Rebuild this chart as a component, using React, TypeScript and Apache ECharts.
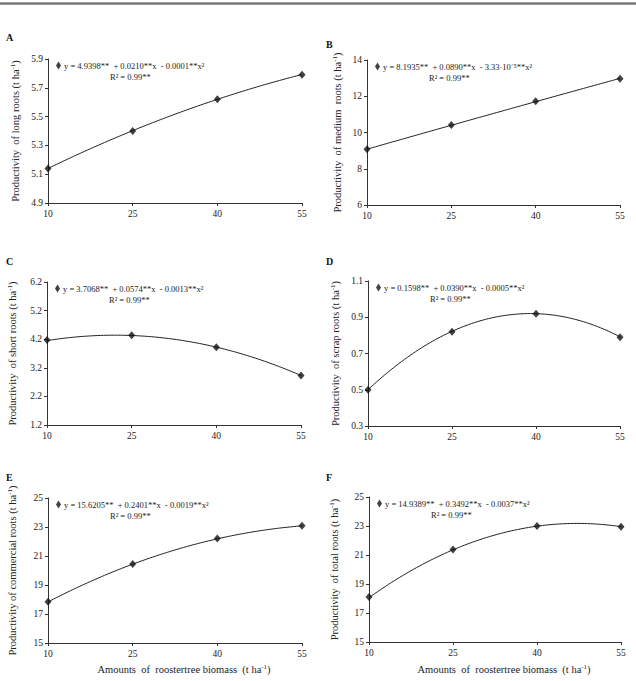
import React, { useEffect, useRef } from "react";
import * as echarts from "echarts";

// Biomass doses (t ha-1) on the x axis
const doses = [10, 25, 40, 55];
const xTicks = [10, 25, 40, 55];

// Observed productivity (t ha-1) per root class
const longRoots = [5.14, 5.4, 5.62, 5.79];
const mediumRoots = [9.08, 10.42, 11.72, 12.97];
const shortRoots = [4.17, 4.34, 3.92, 2.93];
const scrapRoots = [0.5, 0.82, 0.92, 0.79];
const commercialRoots = [17.84, 20.45, 22.2, 23.08];
const totalRoots = [18.1, 21.38, 23.0, 22.95];

// Quadratic regression coefficients [b0, b1, b2] for y = b0 + b1 x + b2 x²
const longFit = [4.9398, 0.021, -0.0001];
const mediumFit = [8.1935, 0.089, -3.33e-5];
const shortFit = [3.7068, 0.0574, -0.0013];
const scrapFit = [0.1598, 0.039, -0.0005];
const commercialFit = [15.6205, 0.2401, -0.0019];
const totalFit = [14.9389, 0.3492, -0.0037];

// Regression equations and determination coefficients
const equations = [
  "y = 4.9398**  + 0.0210**x  - 0.0001**x²",
  "y = 8.1935**  + 0.0890**x  - 3.33·10⁻⁵**x²",
  "y = 3.7068**  + 0.0574**x  - 0.0013**x²",
  "y = 0.1598**  + 0.0390**x  - 0.0005**x²",
  "y = 15.6205**  + 0.2401**x  - 0.0019**x²",
  "y = 14.9389**  + 0.3492**x  - 0.0037**x²",
];
const r2Labels = ["R² = 0.99**", "R² = 0.99**", "R² = 0.99**", "R² = 0.99**", "R² = 0.99**", "R² = 0.99**"];

// Panel letters and y-axis titles
const panelLetters = ["A", "B", "C", "D", "E", "F"];
const yTitles = [
  "Productivity  of long roots",
  "Productivity  of medium  roots",
  "Productivity  of short roots",
  "Productivity  of scrap roots",
  "Productivity of commercial roots",
  "Productivity  of total roots",
];
const xTitle = "Amounts  of  roostertree biomass  (t ha";

// Y-axis ranges [min, max, interval, decimals]
const yRanges = [
  [4.9, 5.9, 0.2, 1],
  [6, 14, 2, 0],
  [1.2, 6.2, 1, 1],
  [0.3, 1.1, 0.2, 1],
  [15, 25, 2, 0],
  [15, 25, 2, 0],
];

const observed = [longRoots, mediumRoots, shortRoots, scrapRoots, commercialRoots, totalRoots];
const fits = [longFit, mediumFit, shortFit, scrapFit, commercialFit, totalFit];

const FONT = "'Liberation Serif', 'Times New Roman', serif";
const INK = "#222";

const grids = [
  { left: 48, top: 59, width: 254, height: 144, nameGap: 27 },
  { left: 367, top: 60, width: 253, height: 145, nameGap: 24 },
  { left: 47, top: 282, width: 254, height: 143, nameGap: 29 },
  { left: 368, top: 281, width: 252, height: 145, nameGap: 27 },
  { left: 48, top: 498, width: 254, height: 145, nameGap: 30 },
  { left: 369, top: 497, width: 252, height: 145, nameGap: 29 },
];

function fitCurve(c: number[]) {
  const pts: number[][] = [];
  for (let x = doses[0]; x <= doses[doses.length - 1] + 1e-9; x += 0.5) {
    pts.push([x, c[0] + c[1] * x + c[2] * x * x]);
  }
  return pts;
}

export default function App() {
  const ref = useRef<HTMLDivElement>(null);

  useEffect(() => {
    document.body.style.margin = "0";
    const chart = echarts.init(ref.current!, null, { renderer: "svg" });

    const xAxis = grids.map((_, i) => ({
      gridIndex: i,
      type: "value",
      min: 10,
      max: 55,
      interval: 15,
      axisLine: { show: true, lineStyle: { color: "#333", width: 1 } },
      axisTick: { show: true, length: 3, lineStyle: { color: "#333" }, customValues: xTicks },
      axisLabel: {
        fontSize: 9.5,
        color: INK,
        fontFamily: FONT,
        margin: 6,
        customValues: xTicks,
        formatter: (v: number) => String(Math.round(v)),
      },
      splitLine: { show: false },
    }));

    const yAxis = grids.map((g, i) => {
      const [min, max, interval, dec] = yRanges[i];
      return {
        gridIndex: i,
        type: "value",
        min,
        max,
        interval,
        name: `{a|${yTitles[i]} (t ha}{s|-1}{a|)}`,
        nameLocation: "middle",
        nameGap: g.nameGap,
        nameTextStyle: {
          rich: {
            a: { fontSize: 10.5, fontFamily: FONT, color: INK, lineHeight: 12 },
            s: { fontSize: 7, fontFamily: FONT, color: INK, verticalAlign: "top", lineHeight: 12 },
          },
        },
        axisLine: { show: true, lineStyle: { color: "#333", width: 1 } },
        axisTick: { show: true, length: 3, lineStyle: { color: "#333" } },
        axisLabel: {
          fontSize: 9.5,
          color: INK,
          fontFamily: FONT,
          margin: 5,
          formatter: (v: number) => v.toFixed(dec as number),
        },
        splitLine: { show: false },
      };
    });

    const series: any[] = [];
    grids.forEach((_, i) => {
      series.push({
        type: "line",
        xAxisIndex: i,
        yAxisIndex: i,
        data: fitCurve(fits[i]),
        showSymbol: false,
        symbol: "none",
        silent: true,
        lineStyle: { color: "#222", width: 1 },
        z: 2,
      });
      series.push({
        name: equations[i],
        type: "scatter",
        xAxisIndex: i,
        yAxisIndex: i,
        data: doses.map((d, k) => [d, observed[i][k]]),
        symbol: "diamond",
        symbolSize: [7, 8],
        itemStyle: { color: "#111" },
        z: 3,
      });
    });

    const legend = grids.map((g, i) => ({
      data: [{ name: equations[i], icon: "diamond" }],
      left: g.left + 8,
      top: g.top + 2,
      padding: 0,
      itemWidth: 5,
      itemHeight: 8,
      itemGap: 0,
      selectedMode: false,
      textStyle: { fontSize: 8.5, fontFamily: FONT, color: INK, padding: [0, 0, 0, -2] },
    }));

    const graphic: any[] = [
      { type: "rect", shape: { x: 0, y: 2.5, width: 636, height: 1.2 }, style: { fill: "#444" } },
      { type: "rect", shape: { x: 0, y: 4.3, width: 636, height: 0.8 }, style: { fill: "#777" } },
    ];
    const letterPos = [
      [6, 32],
      [326, 39],
      [6, 256],
      [326, 256],
      [6, 472],
      [326, 472],
    ];
    grids.forEach((g, i) => {
      graphic.push({
        type: "text",
        left: letterPos[i][0],
        top: letterPos[i][1],
        style: { text: panelLetters[i], font: `bold 10px ${FONT}`, fill: "#111" },
      });
      graphic.push({
        type: "text",
        left: g.left + 62,
        top: g.top + 13,
        style: { text: r2Labels[i], font: `8.5px ${FONT}`, fill: INK },
      });
    });
    [grids[4], grids[5]].forEach((g) => {
      graphic.push({
        type: "text",
        x: g.left + g.width / 2 + 9,
        y: 669,
        style: {
          text: `{a|${xTitle}}{s|-1}{a|)}`,
          align: "center",
          verticalAlign: "middle",
          rich: {
            a: { fontSize: 10.5, fontFamily: FONT, fill: INK, lineHeight: 12 } as any,
            s: { fontSize: 7, fontFamily: FONT, fill: INK, verticalAlign: "top", lineHeight: 12 } as any,
          },
        },
      });
    });

    chart.setOption({
      animation: false,
      backgroundColor: "#fff",
      textStyle: { fontFamily: FONT },
      grid: grids.map((g) => ({ left: g.left, top: g.top, width: g.width, height: g.height })),
      xAxis,
      yAxis,
      legend,
      series,
      graphic,
    });

    return () => chart.dispose();
  }, []);

  return (
    <div
      ref={ref}
      style={{ position: "absolute", left: 0, top: 0, width: 636, height: 681 }}
    />
  );
}
